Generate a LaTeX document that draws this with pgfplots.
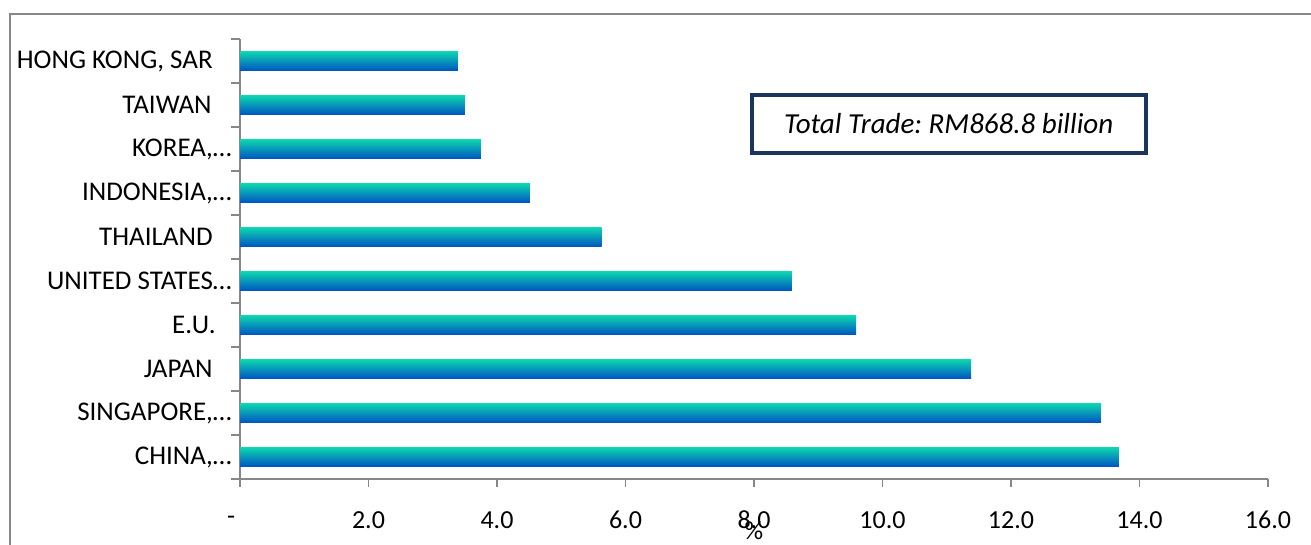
\documentclass[border=0pt]{standalone}
\usepackage{pgfplots}
\pgfplotsset{compat=1.18}
\usepackage{fontspec}
\setmainfont{Carlito}
\frenchspacing
\definecolor{barTop}{HTML}{0CD4B0}
\definecolor{barMid}{HTML}{1EC6E6}
\definecolor{barBot}{HTML}{0056C2}
\definecolor{frameGray}{HTML}{888888}
\definecolor{axisGray}{HTML}{878787}
\definecolor{boxNavy}{HTML}{1B365D}
\pgfplotsset{tradebar/.style={draw=none, top color=barTop, middle color=barMid, bottom color=barBot}}

\begin{document}
\begin{tikzpicture}
\useasboundingbox (0,0) rectangle (655.5pt,272.5pt);
% chart area frame
\draw[frameGray, line width=1pt] (5pt,-20pt) -- (5pt,265.5pt) -- (700pt,265.5pt);
\begin{axis}[
  at={(120pt,33pt)}, anchor=south west,
  scale only axis, width=514pt, height=220pt,
  xbar, bar width=9.25pt, bar shift=0pt,
  xmin=0, xmax=16, ymin=-0.5, ymax=9.5,
  axis x line*=bottom, axis y line*=left,
  axis line style={axisGray, line width=0.8pt},
  tick style={axisGray, line width=0.8pt},
  tick align=outside,
  xtick={0,2,...,16},
  xticklabels={{-\kern9pt},2.0,4.0,6.0,8.0,10.0,12.0,14.0,16.0},
  major tick length=4pt,
  ytick={0,...,9},
  yticklabels={{CHINA,…}, {SINGAPORE,…}, {JAPAN\kern9.5pt}, {E.U.\kern8pt}, {UNITED STATES…}, {THAILAND\kern9.5pt}, {INDONESIA,…}, {KOREA,…}, {TAIWAN\kern10pt}, {HONG KONG, SAR\kern9.5pt}},
  major y tick style={draw=none},
  minor ytick={-0.5,0.5,...,9.5},
  minor tick length=4.5pt,
  minor y tick style={axisGray, line width=0.8pt},
  yticklabel style={anchor=east, inner sep=0pt, xshift=0pt, font=\fontsize{13.5}{16}\selectfont},
  xticklabel style={anchor=center, yshift=-16.5pt, font=\fontsize{13}{15.6}\selectfont},
  /pgf/number format/assume math mode=true,
  xlabel={\%},
  xlabel style={at={(axis description cs:0.5,0)}, anchor=center, yshift=-26pt, font=\fontsize{13}{15.6}\selectfont},
  clip=false,
]
% one plot per partner so that each bar carries its own shading
\addplot[tradebar] coordinates {(13.68,0)};
\addplot[tradebar] coordinates {(13.40,1)};
\addplot[tradebar] coordinates {(11.38,2)};
\addplot[tradebar] coordinates {(9.59,3)};
\addplot[tradebar] coordinates {(8.59,4)};
\addplot[tradebar] coordinates {(5.63,5)};
\addplot[tradebar] coordinates {(4.51,6)};
\addplot[tradebar] coordinates {(3.75,7)};
\addplot[tradebar] coordinates {(3.50,8)};
\addplot[tradebar] coordinates {(3.39,9)};
\node[draw=boxNavy, line width=2pt, minimum width=197pt, minimum height=29pt,
      inner sep=0pt, font=\fontsize{14.5}{17}\selectfont\itshape]
  at (axis cs:11.03,7.57) {Total Trade: RM868.8 billion};
\end{axis}
\end{tikzpicture}
\end{document}
